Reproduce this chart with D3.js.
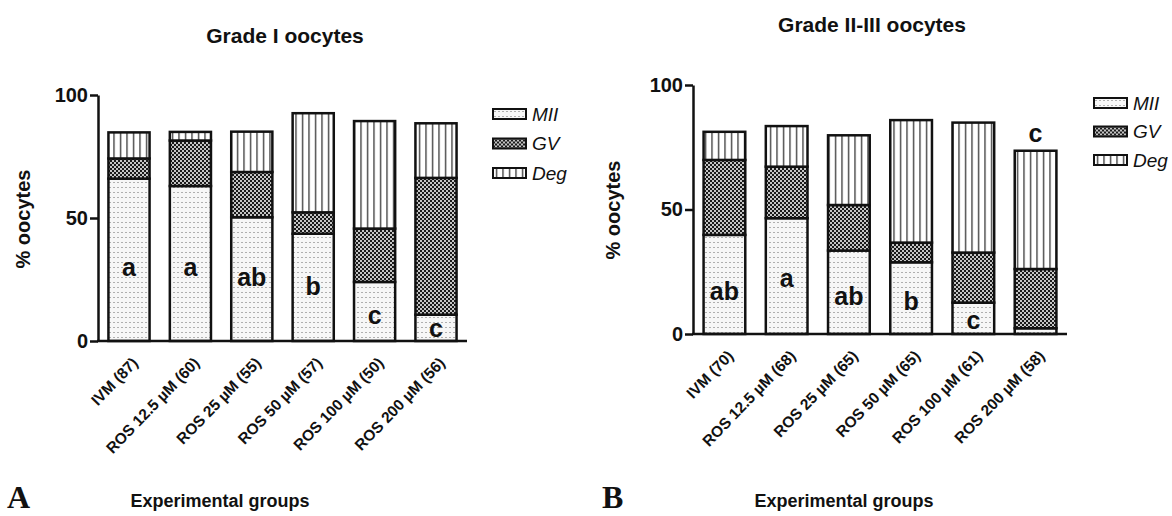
<!DOCTYPE html>
<html>
<head>
<meta charset="utf-8">
<script src="https://cdn.jsdelivr.net/npm/d3@7"></script>
<style>
  body { margin: 0; background: #fff; }
  text { font-family: "Liberation Sans", Arial, sans-serif; fill: #111; }
</style>
</head>
<body>
<div id="chart"></div>
<script>
// data (percent of oocytes)
const groupsA = ["IVM (87)", "ROS 12.5 µM (60)", "ROS 25 µM (55)", "ROS 50 µM (57)", "ROS 100 µM (50)", "ROS 200 µM (56)"];
const miiA = [66, 63, 50.3, 43.6, 24, 10.7];
const gvA = [8.2, 18.5, 18.4, 8.7, 21.7, 55.6];
const degA = [10.6, 3.5, 16.4, 40.3, 43.7, 22.2];
const lettersA = ["a", "a", "ab", "b", "c", "c"];
const letterAtA = [26.4, 26.4, 22.4, 18.7, 6.9, 1.6];

const groupsB = ["IVM (70)", "ROS 12.5 µM (68)", "ROS 25 µM (65)", "ROS 50 µM (65)", "ROS 100 µM (61)", "ROS 200 µM (58)"];
const miiB = [39.8, 46.5, 33.5, 28.8, 12.6, 2.3];
const gvB = [30.1, 20.7, 18.3, 7.9, 20.1, 23.8];
const degB = [11.3, 16.3, 28, 49.2, 52.2, 47.5];
const lettersB = ["ab", "a", "ab", "b", "c", "c"];
const letterAtB = [13.7, 18.9, 11.6, 9.6, 2.0, 77.1];

const seriesNames = ["MII", "GV", "Deg"];
const yTicks = [0, 50, 100];

const W = 1172, H = 516;

const svg = d3.select("#chart").append("svg")
  .attr("width", W)
  .attr("height", H);

// fill patterns
const defs = svg.append("defs");

const pMii = defs.append("pattern").attr("id", "pat-MII")
  .attr("patternUnits", "userSpaceOnUse").attr("width", 4).attr("height", 5);
pMii.append("rect").attr("width", 4).attr("height", 5).attr("fill", "#f7f7f7");
pMii.append("rect").attr("x", 1.5).attr("y", 2).attr("width", 1).attr("height", 1).attr("fill", "#666");

const pGv = defs.append("pattern").attr("id", "pat-GV")
  .attr("patternUnits", "userSpaceOnUse").attr("width", 4).attr("height", 4);
pGv.append("rect").attr("width", 4).attr("height", 4).attr("fill", "#1a1a1a");
pGv.append("circle").attr("cx", 1).attr("cy", 1).attr("r", 1).attr("fill", "#fff");
pGv.append("circle").attr("cx", 3).attr("cy", 3).attr("r", 1).attr("fill", "#fff");

const pDeg = defs.append("pattern").attr("id", "pat-Deg")
  .attr("patternUnits", "userSpaceOnUse").attr("width", 6.5).attr("height", 10);
pDeg.append("rect").attr("width", 6.5).attr("height", 10).attr("fill", "#fff");
pDeg.append("rect").attr("x", 3).attr("y", 0).attr("width", 1.1).attr("height", 10).attr("fill", "#111");

function drawPanel(cfg) {
  const g = svg.append("g");

  const x = d3.scaleBand()
    .domain(cfg.groups)
    .range([cfg.left, cfg.right])
    .paddingInner(0.33)
    .paddingOuter(0.17);

  const y = d3.scaleLinear().domain([0, 100]).range([cfg.bottom, cfg.top]);

  const rows = cfg.groups.map((name, i) => ({
    name: name, MII: cfg.mii[i], GV: cfg.gv[i], Deg: cfg.deg[i]
  }));
  const stacked = d3.stack().keys(seriesNames)(rows);

  // bars
  g.selectAll("g.layer")
    .data(stacked)
    .enter().append("g")
    .attr("class", "layer")
    .attr("fill", d => "url(#pat-" + d.key + ")")
    .selectAll("rect")
    .data(d => d)
    .enter().append("rect")
    .attr("x", d => x(d.data.name))
    .attr("width", x.bandwidth())
    .attr("y", d => y(d[1]))
    .attr("height", d => y(d[0]) - y(d[1]))
    .attr("stroke", "#111")
    .attr("stroke-width", 2.5);

  // y axis
  const yAxis = d3.axisLeft(y)
    .tickValues(yTicks)
    .tickSize(8)
    .tickSizeOuter(0)
    .tickPadding(2);

  const ya = g.append("g")
    .attr("transform", "translate(" + cfg.left + ",0)")
    .call(yAxis);
  ya.select(".domain").attr("stroke", "#111").attr("stroke-width", 2.5);
  ya.selectAll(".tick line").attr("stroke", "#111").attr("stroke-width", 2.5);
  ya.selectAll(".tick text")
    .style("font-size", "20px")
    .style("font-weight", "bold")
    .attr("fill", "#111");

  // x axis (no ticks, rotated labels)
  const xAxis = d3.axisBottom(x).tickSize(0).tickSizeOuter(0).tickPadding(0);
  const xa = g.append("g")
    .attr("transform", "translate(0," + cfg.bottom + ")")
    .call(xAxis);
  xa.select(".domain").attr("stroke", "#111").attr("stroke-width", 2.5)
    .attr("d", "M" + (cfg.left - 1) + ",0H" + cfg.right);
  xa.selectAll(".tick text")
    .style("font-size", "15.5px")
    .style("font-weight", "bold")
    .attr("fill", "#111")
    .style("text-anchor", "end")
    .attr("dy", "0.35em")
    .attr("transform", "translate(6,19) rotate(-46)")
    .attr("y", 0)
    .attr("x", 0);

  // significance letters
  g.selectAll("text.sig")
    .data(cfg.groups)
    .enter().append("text")
    .attr("class", "sig")
    .attr("x", d => x(d) + x.bandwidth() / 2)
    .attr("y", (d, i) => y(cfg.letterAt[i]))
    .attr("text-anchor", "middle")
    .style("font-size", "25px")
    .style("font-weight", "bold")
    .text((d, i) => cfg.letters[i]);

  // titles
  g.append("text")
    .attr("x", cfg.titleX)
    .attr("y", cfg.titleY)
    .attr("text-anchor", "middle")
    .style("font-size", "21px")
    .style("font-weight", "bold")
    .text(cfg.title);

  g.append("text")
    .attr("transform", "translate(" + cfg.yLabelX + "," + cfg.yLabelY + ") rotate(-90)")
    .attr("text-anchor", "middle")
    .style("font-size", "20px")
    .style("font-weight", "bold")
    .text("% oocytes");

  g.append("text")
    .attr("x", cfg.xLabelX)
    .attr("y", 507)
    .attr("text-anchor", "middle")
    .style("font-size", "18px")
    .style("font-weight", "bold")
    .text("Experimental groups");

  g.append("text")
    .attr("x", cfg.tagX)
    .attr("y", 508)
    .style("font-family", "'Liberation Serif', 'Times New Roman', serif")
    .style("font-size", "32px")
    .style("font-weight", "bold")
    .text(cfg.tag);

  // legend
  const leg = g.selectAll("g.leg")
    .data(seriesNames)
    .enter().append("g")
    .attr("class", "leg")
    .attr("transform", (d, i) => "translate(" + cfg.legX + "," + (cfg.legY + i * cfg.legStep) + ")");
  leg.append("rect")
    .attr("x", 0).attr("y", -5)
    .attr("width", 33).attr("height", 10)
    .attr("fill", d => "url(#pat-" + d + ")")
    .attr("stroke", "#111")
    .attr("stroke-width", 2);
  leg.append("text")
    .attr("x", 39)
    .attr("dy", "0.36em")
    .style("font-size", "19px")
    .style("font-style", "italic")
    .text(d => d);
}

drawPanel({
  groups: groupsA, mii: miiA, gv: gvA, deg: degA,
  letters: lettersA, letterAt: letterAtA,
  left: 98, right: 467, top: 95, bottom: 341,
  title: "Grade I oocytes", titleX: 285, titleY: 43,
  yLabelX: 30, yLabelY: 219, xLabelX: 220, tag: "A", tagX: 7,
  legX: 493, legY: 114, legStep: 29.5
});

drawPanel({
  groups: groupsB, mii: miiB, gv: gvB, deg: degB,
  letters: lettersB, letterAt: letterAtB,
  left: 693, right: 1067, top: 85, bottom: 334,
  title: "Grade II-III oocytes", titleX: 872, titleY: 32,
  yLabelX: 620, yLabelY: 210, xLabelX: 844, tag: "B", tagX: 602,
  legX: 1094, legY: 103, legStep: 28.5
});
</script>
</body>
</html>
